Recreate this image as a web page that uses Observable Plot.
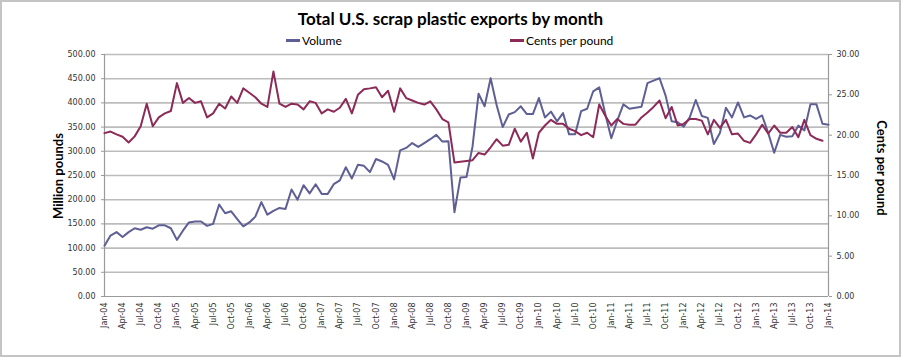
<!DOCTYPE html>
<html>
<head>
<meta charset="utf-8">
<script src="https://cdn.jsdelivr.net/npm/d3@7"></script>
<script src="https://cdn.jsdelivr.net/npm/@observablehq/plot@0.6"></script>
<style>
  html, body { margin: 0; padding: 0; background: #fff; }
  #wrap { position: relative; width: 901px; height: 357px; overflow: hidden; }
  #frame { position: absolute; left: 0; top: 0; width: 897px; height: 353px; border: 2px solid #c4c4c4; pointer-events: none; }
  #title { position: absolute; left: 0; width: 901px; top: 8px; text-align: center; font: bold 17px Lato, sans-serif; color: #000; }
  .leg { position: absolute; top: 33px; font: 12px Lato, sans-serif; color: #000; display: flex; align-items: center; }
  .sw { display: inline-block; width: 14px; height: 3px; margin-right: 2px; }
  .ytitle { position: absolute; font: bold 13px Lato, sans-serif; white-space: nowrap; }
  #chart { position: absolute; left: 0; top: 0; }
</style>
</head>
<body>
<div id="wrap">
  <div id="chart"></div>
  <div id="title">Total U.S. scrap plastic exports by month</div>
  <div class="leg" style="left:286px"><span class="sw" style="background:#5e5f94"></span>Volume</div>
  <div class="leg" style="left:510px"><span class="sw" style="background:#8c2a58"></span>Cents per pound</div>
  <div class="ytitle" id="yl">Million pounds</div>
  <div class="ytitle" id="yr">Cents per pound</div>
  <div id="frame"></div>
</div>
<script>
// Monthly, Jan-04 .. Jan-14 (index 0..120)
const volume = [
  105,126,133,123,133,141,138,143,140,147,147,141,
  117,136,153,155,155,146,150,190,172,176,160,145,
  153,165,195,169,177,183,181,221,200,230,213,232,
  212,212,232,240,267,244,272,270,257,284,279,272,
  242,302,307,317,309,317,325,334,320,321,174,246,
  247,310,419,393,451,395,350,376,381,393,377,377,
  410,370,382,362,379,335,335,383,388,424,432,377,
  327,364,397,388,390,392,441,446,451,415,362,360,
  351,370,406,373,369,315,338,390,370,401,370,374,
  367,374,338,297,334,330,331,353,343,397,397,357,
  355
];
// Cents per pound, Jan-04 .. Dec-13
const cents = [
  20.25,20.45,20.1,19.8,19.1,19.85,21.1,23.9,21.1,22.2,22.7,23.0,
  26.45,24.0,24.6,24.0,24.2,22.2,22.7,23.9,23.3,24.8,24.0,25.8,
  25.25,24.7,23.9,23.5,27.9,23.9,23.5,23.9,23.8,23.2,24.2,24.0,
  22.7,23.2,22.9,23.4,24.5,22.7,25.0,25.7,25.8,25.95,24.7,25.5,
  22.9,25.8,24.6,24.3,24.0,23.8,24.2,23.2,22.0,21.6,16.6,16.7,
  16.8,16.9,17.8,17.6,18.5,19.5,18.7,18.8,20.8,19.2,20.3,17.1,
  20.3,21.2,21.9,21.4,21.4,20.8,20.5,20.0,20.3,19.75,23.8,22.4,
  21.2,22.0,21.4,21.3,21.3,22.2,22.8,23.5,24.3,22.1,23.5,21.2,
  21.4,22.0,22.0,21.8,20.1,21.9,20.9,21.9,20.1,20.2,19.3,19.05,
  20.1,21.3,20.2,21.2,20.3,20.3,21.0,19.75,21.9,20.0,19.55,19.3
];
const xTickLabels = [
  "Jan-04","Apr-04","Jul-04","Oct-04","Jan-05","Apr-05","Jul-05","Oct-05",
  "Jan-06","Apr-06","Jul-06","Oct-06","Jan-07","Apr-07","Jul-07","Oct-07",
  "Jan-08","Apr-08","Jul-08","Oct-08","Jan-09","Apr-09","Jul-09","Oct-09",
  "Jan-10","Apr-10","Jul-10","Oct-10","Jan-11","Apr-11","Jul-11","Oct-11",
  "Jan-12","Apr-12","Jul-12","Oct-12","Jan-13","Apr-13","Jul-13","Oct-13","Jan-14"
];
const leftTicks = [0,50,100,150,200,250,300,350,400,450,500];
const rightTicks = [0,5,10,15,20,25,30];

const VMAX = 500, CMAX = 30;
const toLeft = c => c * VMAX / CMAX;
const tickIdx = xTickLabels.map((_, k) => k * 3);

const chart = Plot.plot({
  width: 901,
  height: 357,
  marginLeft: 104,
  marginRight: 73,
  marginTop: 54,
  marginBottom: 61,
  x: {domain: [0, 120]},
  y: {domain: [0, VMAX]},
  style: {fontFamily: "'DejaVu Sans', sans-serif", fontSize: "8px", color: "#333", background: "transparent"},
  marks: [
    Plot.gridY(leftTicks.filter(d => d > 0), {stroke: "#bcbcbc", strokeOpacity: 1, strokeWidth: 1.6}),
    Plot.ruleY([0], {stroke: "#9a9a9a", strokeWidth: 1.2}),
    Plot.ruleX([0, 120], {stroke: "#9a9a9a", strokeWidth: 1.2}),
    Plot.axisY(leftTicks, {anchor: "left", tickFormat: d => d.toFixed(2), tickSize: 3, tickPadding: 6, stroke: "#9a9a9a", label: null}),
    Plot.axisY(rightTicks.map(toLeft), {anchor: "right", tickFormat: d => (d * CMAX / VMAX).toFixed(2), tickSize: 3, tickPadding: 5, stroke: "#9a9a9a", label: null}),
    Plot.axisX(tickIdx, {anchor: "bottom", tickFormat: d => xTickLabels[d / 3], tickRotate: -90, tickSize: 0, tickPadding: 6, label: null}),
    Plot.lineY(volume, {x: (d, i) => i, y: d => d, stroke: "#5e5f94", strokeWidth: 2}),
    Plot.lineY(cents, {x: (d, i) => i, y: d => toLeft(d), stroke: "#8c2a58", strokeWidth: 2})
  ]
});
document.getElementById("chart").appendChild(chart);

// axis titles
const yl = document.getElementById("yl");
yl.style.left = "58px"; yl.style.top = "176px";
yl.style.transform = "translate(-50%,-50%) rotate(-90deg)";
const yr = document.getElementById("yr");
yr.style.left = "882px"; yr.style.top = "168px";
yr.style.transform = "translate(-50%,-50%) rotate(90deg)";
</script>
</body>
</html>
